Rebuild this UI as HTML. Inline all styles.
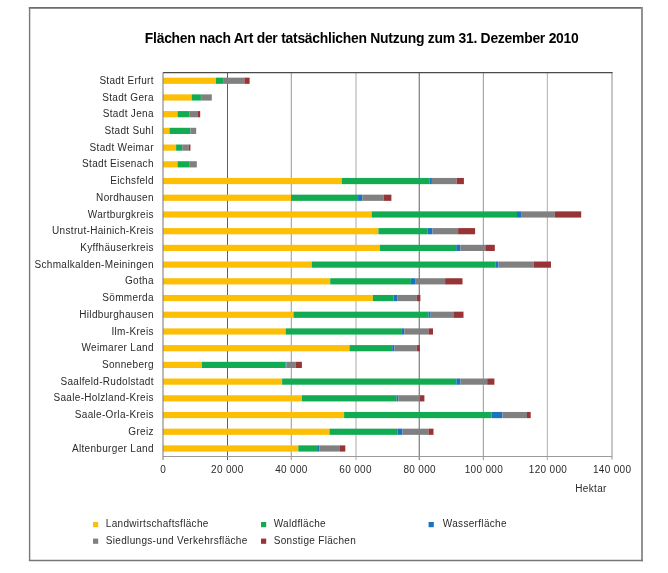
<!DOCTYPE html>
<html><head><meta charset="utf-8"><title>Flächen nach Art der tatsächlichen Nutzung</title>
<style>
html,body{margin:0;padding:0;background:#fff;}
body{width:668px;height:573px;overflow:hidden;}
svg{display:block;will-change:transform;}
text{font-family:"Liberation Sans",sans-serif;}
</style></head><body>
<svg width="668" height="573" viewBox="0 0 668 573">
<rect x="0" y="0" width="668" height="573" fill="#fff"/>

<line x1="28.8" y1="7.9" x2="642.9" y2="7.9" stroke="#6c6c6c" stroke-width="1.8"/>
<line x1="29.6" y1="7.2" x2="29.6" y2="561.1" stroke="#787878" stroke-width="1.4"/>
<line x1="642" y1="7.2" x2="642" y2="561.2" stroke="#939393" stroke-width="2"/>
<line x1="28.9" y1="560.4" x2="643" y2="560.4" stroke="#777" stroke-width="1.5"/>
<line x1="227.5" y1="72.6" x2="227.5" y2="460.1" stroke="#5e5e5e" stroke-width="1.0"/>
<line x1="291.3" y1="72.6" x2="291.3" y2="460.1" stroke="#a0a0a0" stroke-width="1.1"/>
<line x1="356.0" y1="72.6" x2="356.0" y2="460.1" stroke="#d0d0d0" stroke-width="1.8"/>
<line x1="419.3" y1="72.6" x2="419.3" y2="460.1" stroke="#858585" stroke-width="1.3"/>
<line x1="483.4" y1="72.6" x2="483.4" y2="460.1" stroke="#a8a8a8" stroke-width="1.2"/>
<line x1="547.4" y1="72.6" x2="547.4" y2="460.1" stroke="#bcbcbc" stroke-width="1.2"/>
<line x1="612.0" y1="72.6" x2="612.0" y2="459.5" stroke="#a8a8a8" stroke-width="1.3"/>
<line x1="163.0" y1="72.6" x2="612.6" y2="72.6" stroke="#4a4a4a" stroke-width="1.2"/>
<line x1="163.0" y1="456.5" x2="612.0" y2="456.5" stroke="#9a9a9a" stroke-width="1"/>
<rect x="163.00" y="77.65" width="52.90" height="6.2" fill="#fcbf06"/>
<rect x="215.90" y="77.65" width="7.10" height="6.2" fill="#13ab52"/>
<rect x="223.00" y="77.65" width="0.70" height="6.2" fill="#1a72c0"/>
<rect x="223.70" y="77.65" width="20.70" height="6.2" fill="#808080"/>
<rect x="244.40" y="77.65" width="5.20" height="6.2" fill="#973435"/>
<rect x="163.00" y="94.37" width="28.70" height="6.2" fill="#fcbf06"/>
<rect x="191.70" y="94.37" width="9.20" height="6.2" fill="#13ab52"/>
<rect x="200.90" y="94.37" width="0.20" height="6.2" fill="#1a72c0"/>
<rect x="201.10" y="94.37" width="10.70" height="6.2" fill="#808080"/>
<rect x="163.00" y="111.08" width="14.60" height="6.2" fill="#fcbf06"/>
<rect x="177.60" y="111.08" width="11.90" height="6.2" fill="#13ab52"/>
<rect x="189.50" y="111.08" width="0.40" height="6.2" fill="#1a72c0"/>
<rect x="189.90" y="111.08" width="8.10" height="6.2" fill="#808080"/>
<rect x="198.00" y="111.08" width="2.20" height="6.2" fill="#973435"/>
<rect x="163.00" y="127.79" width="6.50" height="6.2" fill="#fcbf06"/>
<rect x="169.50" y="127.79" width="20.70" height="6.2" fill="#13ab52"/>
<rect x="190.20" y="127.79" width="0.20" height="6.2" fill="#1a72c0"/>
<rect x="190.40" y="127.79" width="5.80" height="6.2" fill="#808080"/>
<rect x="163.00" y="144.51" width="13.10" height="6.2" fill="#fcbf06"/>
<rect x="176.10" y="144.51" width="5.90" height="6.2" fill="#13ab52"/>
<rect x="182.00" y="144.51" width="0.20" height="6.2" fill="#1a72c0"/>
<rect x="182.20" y="144.51" width="6.60" height="6.2" fill="#808080"/>
<rect x="188.80" y="144.51" width="1.60" height="6.2" fill="#973435"/>
<rect x="163.00" y="161.22" width="14.60" height="6.2" fill="#fcbf06"/>
<rect x="177.60" y="161.22" width="12.10" height="6.2" fill="#13ab52"/>
<rect x="189.70" y="161.22" width="0.20" height="6.2" fill="#1a72c0"/>
<rect x="189.90" y="161.22" width="6.90" height="6.2" fill="#808080"/>
<rect x="163.00" y="177.94" width="178.80" height="6.2" fill="#fcbf06"/>
<rect x="341.80" y="177.94" width="87.60" height="6.2" fill="#13ab52"/>
<rect x="429.40" y="177.94" width="2.50" height="6.2" fill="#1a72c0"/>
<rect x="431.90" y="177.94" width="24.70" height="6.2" fill="#808080"/>
<rect x="456.60" y="177.94" width="7.30" height="6.2" fill="#973435"/>
<rect x="163.00" y="194.66" width="128.00" height="6.2" fill="#fcbf06"/>
<rect x="291.00" y="194.66" width="67.10" height="6.2" fill="#13ab52"/>
<rect x="358.10" y="194.66" width="4.20" height="6.2" fill="#1a72c0"/>
<rect x="362.30" y="194.66" width="21.40" height="6.2" fill="#808080"/>
<rect x="383.70" y="194.66" width="7.70" height="6.2" fill="#973435"/>
<rect x="163.00" y="211.37" width="208.70" height="6.2" fill="#fcbf06"/>
<rect x="371.70" y="211.37" width="145.30" height="6.2" fill="#13ab52"/>
<rect x="517.00" y="211.37" width="4.70" height="6.2" fill="#1a72c0"/>
<rect x="521.70" y="211.37" width="33.20" height="6.2" fill="#808080"/>
<rect x="554.90" y="211.37" width="26.30" height="6.2" fill="#973435"/>
<rect x="163.00" y="228.09" width="215.40" height="6.2" fill="#fcbf06"/>
<rect x="378.40" y="228.09" width="49.30" height="6.2" fill="#13ab52"/>
<rect x="427.70" y="228.09" width="4.80" height="6.2" fill="#1a72c0"/>
<rect x="432.50" y="228.09" width="25.60" height="6.2" fill="#808080"/>
<rect x="458.10" y="228.09" width="17.00" height="6.2" fill="#973435"/>
<rect x="163.00" y="244.80" width="216.90" height="6.2" fill="#fcbf06"/>
<rect x="379.90" y="244.80" width="76.30" height="6.2" fill="#13ab52"/>
<rect x="456.20" y="244.80" width="4.20" height="6.2" fill="#1a72c0"/>
<rect x="460.40" y="244.80" width="25.60" height="6.2" fill="#808080"/>
<rect x="486.00" y="244.80" width="8.80" height="6.2" fill="#973435"/>
<rect x="163.00" y="261.51" width="148.80" height="6.2" fill="#fcbf06"/>
<rect x="311.80" y="261.51" width="183.60" height="6.2" fill="#13ab52"/>
<rect x="495.40" y="261.51" width="3.10" height="6.2" fill="#1a72c0"/>
<rect x="498.50" y="261.51" width="35.30" height="6.2" fill="#808080"/>
<rect x="533.80" y="261.51" width="17.20" height="6.2" fill="#973435"/>
<rect x="163.00" y="278.23" width="167.20" height="6.2" fill="#fcbf06"/>
<rect x="330.20" y="278.23" width="80.70" height="6.2" fill="#13ab52"/>
<rect x="410.90" y="278.23" width="4.20" height="6.2" fill="#1a72c0"/>
<rect x="415.10" y="278.23" width="30.00" height="6.2" fill="#808080"/>
<rect x="445.10" y="278.23" width="17.40" height="6.2" fill="#973435"/>
<rect x="163.00" y="294.94" width="209.90" height="6.2" fill="#fcbf06"/>
<rect x="372.90" y="294.94" width="20.60" height="6.2" fill="#13ab52"/>
<rect x="393.50" y="294.94" width="4.10" height="6.2" fill="#1a72c0"/>
<rect x="397.60" y="294.94" width="19.20" height="6.2" fill="#808080"/>
<rect x="416.80" y="294.94" width="3.60" height="6.2" fill="#973435"/>
<rect x="163.00" y="311.66" width="130.50" height="6.2" fill="#fcbf06"/>
<rect x="293.50" y="311.66" width="135.00" height="6.2" fill="#13ab52"/>
<rect x="428.50" y="311.66" width="2.20" height="6.2" fill="#1a72c0"/>
<rect x="430.70" y="311.66" width="23.30" height="6.2" fill="#808080"/>
<rect x="454.00" y="311.66" width="9.50" height="6.2" fill="#973435"/>
<rect x="163.00" y="328.38" width="122.70" height="6.2" fill="#fcbf06"/>
<rect x="285.70" y="328.38" width="116.20" height="6.2" fill="#13ab52"/>
<rect x="401.90" y="328.38" width="2.40" height="6.2" fill="#1a72c0"/>
<rect x="404.30" y="328.38" width="24.20" height="6.2" fill="#808080"/>
<rect x="428.50" y="328.38" width="4.50" height="6.2" fill="#973435"/>
<rect x="163.00" y="345.09" width="186.50" height="6.2" fill="#fcbf06"/>
<rect x="349.50" y="345.09" width="42.70" height="6.2" fill="#13ab52"/>
<rect x="392.20" y="345.09" width="2.20" height="6.2" fill="#1a72c0"/>
<rect x="394.40" y="345.09" width="22.40" height="6.2" fill="#808080"/>
<rect x="416.80" y="345.09" width="3.10" height="6.2" fill="#973435"/>
<rect x="163.00" y="361.80" width="38.90" height="6.2" fill="#fcbf06"/>
<rect x="201.90" y="361.80" width="83.50" height="6.2" fill="#13ab52"/>
<rect x="285.40" y="361.80" width="1.10" height="6.2" fill="#1a72c0"/>
<rect x="286.50" y="361.80" width="9.30" height="6.2" fill="#808080"/>
<rect x="295.80" y="361.80" width="6.10" height="6.2" fill="#973435"/>
<rect x="163.00" y="378.52" width="119.10" height="6.2" fill="#fcbf06"/>
<rect x="282.10" y="378.52" width="174.20" height="6.2" fill="#13ab52"/>
<rect x="456.30" y="378.52" width="4.20" height="6.2" fill="#1a72c0"/>
<rect x="460.50" y="378.52" width="26.70" height="6.2" fill="#808080"/>
<rect x="487.20" y="378.52" width="7.20" height="6.2" fill="#973435"/>
<rect x="163.00" y="395.23" width="138.90" height="6.2" fill="#fcbf06"/>
<rect x="301.90" y="395.23" width="94.60" height="6.2" fill="#13ab52"/>
<rect x="396.50" y="395.23" width="1.80" height="6.2" fill="#1a72c0"/>
<rect x="398.30" y="395.23" width="21.60" height="6.2" fill="#808080"/>
<rect x="419.90" y="395.23" width="4.50" height="6.2" fill="#973435"/>
<rect x="163.00" y="411.95" width="181.10" height="6.2" fill="#fcbf06"/>
<rect x="344.10" y="411.95" width="147.50" height="6.2" fill="#13ab52"/>
<rect x="491.60" y="411.95" width="10.90" height="6.2" fill="#1a72c0"/>
<rect x="502.50" y="411.95" width="24.50" height="6.2" fill="#808080"/>
<rect x="527.00" y="411.95" width="3.70" height="6.2" fill="#973435"/>
<rect x="163.00" y="428.66" width="166.50" height="6.2" fill="#fcbf06"/>
<rect x="329.50" y="428.66" width="67.90" height="6.2" fill="#13ab52"/>
<rect x="397.40" y="428.66" width="5.10" height="6.2" fill="#1a72c0"/>
<rect x="402.50" y="428.66" width="26.00" height="6.2" fill="#808080"/>
<rect x="428.50" y="428.66" width="5.00" height="6.2" fill="#973435"/>
<rect x="163.00" y="445.38" width="135.30" height="6.2" fill="#fcbf06"/>
<rect x="298.30" y="445.38" width="18.80" height="6.2" fill="#13ab52"/>
<rect x="317.10" y="445.38" width="2.20" height="6.2" fill="#1a72c0"/>
<rect x="319.30" y="445.38" width="20.60" height="6.2" fill="#808080"/>
<rect x="339.90" y="445.38" width="5.40" height="6.2" fill="#973435"/>
<line x1="163.0" y1="72.6" x2="163.0" y2="460.1" stroke="#828282" stroke-width="1.1"/>
<g font-size="10" letter-spacing="0.32" fill="#2a2a2a" text-anchor="end">
<text x="153.8" y="83.85">Stadt Erfurt</text>
<text x="153.8" y="100.56">Stadt Gera</text>
<text x="153.8" y="117.28">Stadt Jena</text>
<text x="153.8" y="133.99">Stadt Suhl</text>
<text x="153.8" y="150.71">Stadt Weimar</text>
<text x="153.8" y="167.42">Stadt Eisenach</text>
<text x="153.8" y="184.14">Eichsfeld</text>
<text x="153.8" y="200.85">Nordhausen</text>
<text x="153.8" y="217.57">Wartburgkreis</text>
<text x="153.8" y="234.28">Unstrut-Hainich-Kreis</text>
<text x="153.8" y="251.00">Kyffhäuserkreis</text>
<text x="153.8" y="267.72">Schmalkalden-Meiningen</text>
<text x="153.8" y="284.43">Gotha</text>
<text x="153.8" y="301.14">Sömmerda</text>
<text x="153.8" y="317.86">Hildburghausen</text>
<text x="153.8" y="334.58">Ilm-Kreis</text>
<text x="153.8" y="351.29">Weimarer Land</text>
<text x="153.8" y="368.00">Sonneberg</text>
<text x="153.8" y="384.72">Saalfeld-Rudolstadt</text>
<text x="153.8" y="401.44">Saale-Holzland-Kreis</text>
<text x="153.8" y="418.15">Saale-Orla-Kreis</text>
<text x="153.8" y="434.87">Greiz</text>
<text x="153.8" y="451.58">Altenburger Land</text>
</g>
<g font-size="10" letter-spacing="0.32" fill="#2a2a2a" text-anchor="middle">
<text x="163.16" y="472.6">0</text>
<text x="227.30" y="472.6">20 000</text>
<text x="291.45" y="472.6">40 000</text>
<text x="355.59" y="472.6">60 000</text>
<text x="419.73" y="472.6">80 000</text>
<text x="483.87" y="472.6">100 000</text>
<text x="548.02" y="472.6">120 000</text>
<text x="612.16" y="472.6">140 000</text>
</g>
<text x="575.3" y="492.4" font-size="10" letter-spacing="0.32" fill="#2a2a2a">Hektar</text>
<text x="144.8" y="43" font-size="13.9" font-weight="bold" fill="#000" textLength="434" lengthAdjust="spacing">Flächen nach Art der tatsächlichen Nutzung zum 31. Dezember 2010</text>
<rect x="93" y="522" width="5.2" height="5.2" fill="#fcbf06"/>
<text x="105.8" y="527.1" font-size="10" letter-spacing="0.32" fill="#2a2a2a">Landwirtschaftsfläche</text>
<rect x="261" y="522" width="5.2" height="5.2" fill="#13ab52"/>
<text x="273.7" y="527.1" font-size="10" letter-spacing="0.32" fill="#2a2a2a">Waldfläche</text>
<rect x="428.6" y="522" width="5.2" height="5.2" fill="#1a72c0"/>
<text x="442.8" y="527.1" font-size="10" letter-spacing="0.32" fill="#2a2a2a">Wasserfläche</text>
<rect x="93" y="538.6" width="5.2" height="5.2" fill="#808080"/>
<text x="105.8" y="544.2" font-size="10" letter-spacing="0.32" fill="#2a2a2a">Siedlungs-und Verkehrsfläche</text>
<rect x="261" y="538.6" width="5.2" height="5.2" fill="#973435"/>
<text x="273.7" y="544.2" font-size="10" letter-spacing="0.32" fill="#2a2a2a">Sonstige Flächen</text>
</svg>
</body></html>
